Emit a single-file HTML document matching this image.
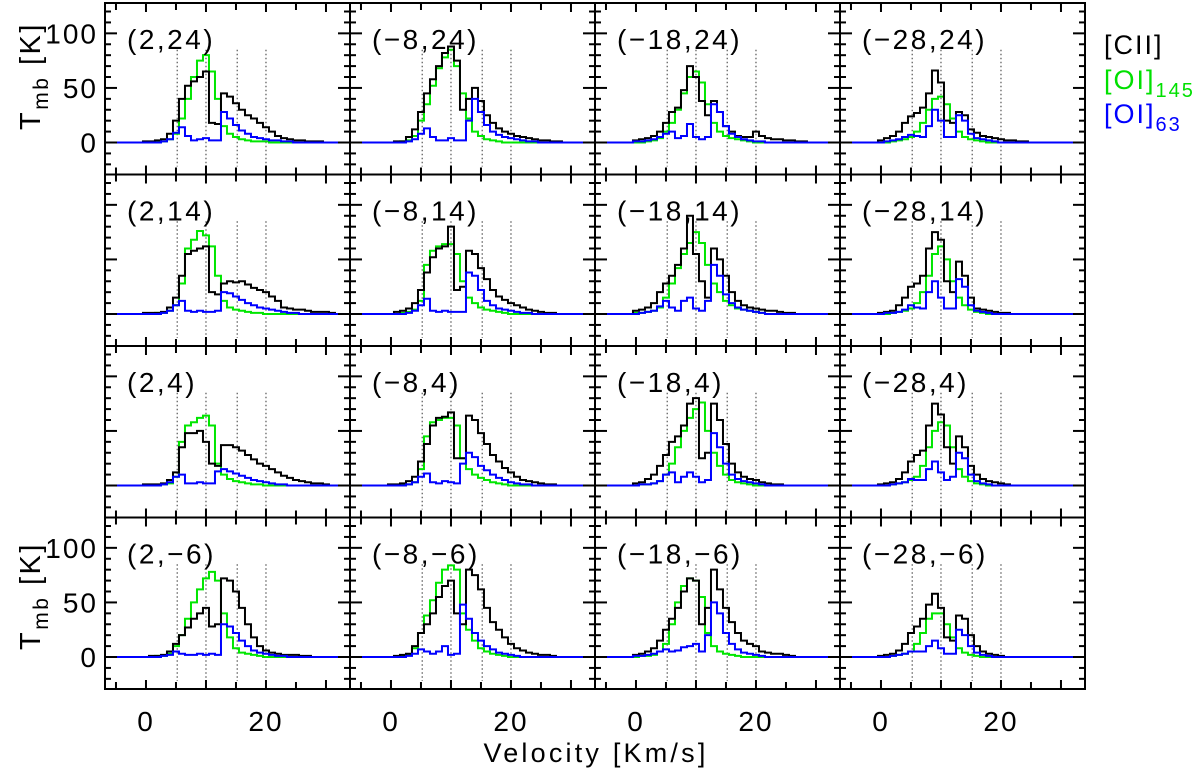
<!DOCTYPE html>
<html><head><meta charset="utf-8">
<style>
html,body{margin:0;padding:0;background:#fff;}
svg{display:block;font-family:"Liberation Sans",sans-serif;}
</style></head>
<body>
<svg id="chart" width="1200" height="772" viewBox="0 0 1200 772" xmlns="http://www.w3.org/2000/svg">
  <g id="panels"></g>
  <text transform="translate(40,76) rotate(-90)" text-anchor="middle" font-size="29" letter-spacing="2.5">T<tspan font-size="21" dy="8">mb</tspan><tspan dy="-8"> [K]</tspan></text>
  <text transform="translate(40,596) rotate(-90)" text-anchor="middle" font-size="29" letter-spacing="2.5">T<tspan font-size="21" dy="8">mb</tspan><tspan dy="-8"> [K]</tspan></text>
  <text x="596" y="762" text-anchor="middle" font-size="27" letter-spacing="3.2">Velocity [Km/s]</text>
  <g font-size="27" letter-spacing="2">
    <text x="1104" y="54" fill="#000">[CII]</text>
    <text x="1104" y="89" fill="#00e000">[OI]<tspan font-size="20" dy="8">145</tspan></text>
    <text x="1104" y="123" fill="#0000ff">[OI]<tspan font-size="20" dy="8">63</tspan></text>
  </g>
</svg>
<script>
const velocities = [0,1,2,3,4,5,6,7,8,9,10,11,12,13,14,15,16,17,18,19,20,21,22,23,24,25,26,27,28,29,30,31,32,33];
const panelTitles = ["(2,24)","(\u22128,24)","(\u221218,24)","(\u221228,24)","(2,14)","(\u22128,14)","(\u221218,14)","(\u221228,14)","(2,4)","(\u22128,4)","(\u221218,4)","(\u221228,4)","(2,\u22126)","(\u22128,\u22126)","(\u221218,\u22126)","(\u221228,\u22126)"];
const xTickLabels = [0,20];
const yTickLabels = [0,50,100];
const dottedVelocities = [5.2,10,15.2,20];

const ciiSeries = [
[1,1,2,3,8,20,40,52,56,60,65,18,17,45,42,36,30,25,22,18,14,10,6,4,3,2,2,1,1,1],
[0,1,1,5,12,28,45,58,70,82,88,75,30,40,50,38,25,18,13,10,8,6,5,4,3,2,2,1,1],
[2,3,4,6,10,18,28,32,48,70,60,38,25,38,28,15,10,6,5,5,10,6,4,3,3,2,2,1,1],
[2,4,6,10,18,24,27,32,45,66,55,20,18,28,25,12,9,6,5,4,3,2,2,1,1],
[1,1,1,2,6,15,35,55,58,60,62,20,18,28,30,29,30,27,24,22,20,16,12,6,5,4,4,3,2,2,2,1],
[0,2,3,5,10,22,38,52,60,62,80,22,25,58,55,42,32,22,16,13,10,8,6,4,3,2,1,1],
[3,4,6,10,20,28,35,45,60,90,55,30,15,60,50,35,20,12,8,6,5,4,3,3,2,1,1],
[1,2,3,8,15,25,28,35,60,75,68,30,20,48,35,15,5,4,3,2,1,1],
[1,1,1,2,5,12,35,48,48,50,40,20,18,37,37,35,32,28,24,20,18,15,12,9,7,5,4,3,2,2,1],
[1,1,2,4,8,22,38,55,62,63,67,25,25,64,60,48,38,28,22,16,12,8,5,4,3,2,1,1],
[2,3,6,10,18,28,40,45,55,75,80,25,30,75,60,38,20,12,8,6,5,3,2,1,1],
[1,2,3,6,12,22,28,32,55,75,65,35,20,45,35,18,10,6,4,3,2,1],
[0,1,1,2,5,12,20,27,35,40,45,28,30,72,70,60,45,30,18,10,6,4,3,2,2,2,1,1],
[0,1,2,3,10,22,30,40,55,65,70,40,30,80,75,62,45,32,25,18,12,8,6,4,3,2,2,1],
[2,3,5,8,15,25,35,45,60,72,70,30,45,80,62,45,32,22,15,12,10,5,4,3,3,2,1],
[1,2,3,6,12,22,28,35,48,58,45,18,15,38,35,20,10,5,3,2,1]
];
const oi145Series = [
[0,0,1,1,3,8,22,40,60,75,80,65,40,15,8,5,3,2,1,1,1],
[0,0,1,2,6,20,35,52,68,78,85,70,45,22,10,6,3,2,1],
[0,0,1,2,4,10,18,30,45,60,65,55,35,18,10,6,4,3,2,1],
[0,0,1,2,3,5,10,18,30,40,42,35,22,10,5,3,2,1],
[0,0,1,1,3,8,28,60,68,76,72,62,35,12,6,4,3,2,1,1],
[0,0,1,2,4,12,45,58,62,64,64,55,30,15,10,6,4,3,2,1],
[1,1,2,3,6,15,28,42,55,65,75,65,45,28,20,12,8,5,4,3,2,1],
[0,0,1,2,3,5,10,20,35,55,62,50,30,15,8,4,2,1],
[0,0,0,1,2,8,40,55,58,62,64,55,20,10,6,4,3,2,1,1],
[0,0,1,1,3,15,45,58,60,62,62,55,25,15,10,7,5,3,2,1],
[0,1,1,2,4,10,20,35,50,62,70,76,50,30,18,10,5,3,2,1],
[0,0,1,2,3,5,8,18,35,50,58,55,35,15,8,4,2,1],
[0,0,1,1,3,10,20,35,50,62,72,78,70,40,18,8,4,3,2,1],
[0,0,1,2,8,22,38,52,68,80,84,80,40,25,15,8,5,3,2,1],
[0,1,1,2,5,12,30,50,65,72,70,55,22,10,5,3,2,1],
[0,0,1,2,3,5,12,22,35,40,40,30,18,8,4,2,1]
];
const oi63Series = [
[0,0,0,1,3,9,14,6,2,3,4,2,2,28,22,16,11,8,5,4,3,2,2,1,1],
[0,0,0,1,3,8,13,5,2,2,4,2,2,20,40,28,16,10,7,5,4,3,2,1,1],
[1,1,2,3,5,8,10,4,6,17,5,3,5,35,28,15,8,5,3,2,1,1],
[0,1,2,3,5,7,6,5,15,30,20,5,5,25,20,8,4,3,2,1],
[0,0,0,1,3,8,12,3,2,3,2,2,3,20,19,16,13,10,8,6,5,4,3,2,1,1],
[0,0,0,1,3,8,14,3,2,3,2,2,2,38,35,22,12,8,5,4,3,2,1,1],
[0,1,2,3,7,12,6,3,12,15,5,3,12,45,35,18,10,6,4,3,2,1],
[0,1,1,2,4,8,6,5,20,30,15,5,5,32,25,8,3,2,1],
[0,0,0,1,3,8,10,2,2,3,2,2,13,15,13,11,9,7,5,4,3,2,1,1],
[0,0,0,1,3,8,11,3,2,4,3,2,20,30,26,18,14,10,7,5,3,2,1,1],
[0,1,1,2,4,10,12,3,8,12,8,3,5,48,35,20,10,6,4,3,2,1],
[0,0,1,2,3,6,5,5,15,22,12,5,8,30,25,10,4,2,1],
[0,0,0,1,2,5,3,2,2,3,2,3,2,30,28,22,15,10,6,4,3,2,1,1],
[0,0,0,1,3,7,5,3,5,10,2,3,48,35,22,15,10,7,4,3,2,1],
[1,1,2,3,5,7,5,6,9,10,12,5,20,50,40,22,12,7,4,3,2,1],
[0,0,1,2,3,5,5,5,10,15,8,3,3,25,20,10,4,2,1]
];

const NS = "http://www.w3.org/2000/svg";
const X0 = 105, PW = 245, Y0 = 3, PH = 171.5;
const VMIN = -6.83, VMAX = VMIN + PW/6;
const KMIN = -29.3, KMAX = 127.8;
function xs(col, v){ return X0 + col*PW + (v - VMIN) * (PW/(VMAX-VMIN)); }
function ys(row, k){ return Y0 + row*PH + (KMAX - k) * (PH/(KMAX-KMIN)); }
function mk(tag, attrs, parent){ const e = document.createElementNS(NS, tag); for (const a in attrs) e.setAttribute(a, attrs[a]); parent.appendChild(e); return e; }

const root = document.getElementById('panels');
const defs = mk('defs', {}, root);

function stepPath(col, row, data){
  const val = i => (data[i] === undefined ? 0 : data[i]);
  let d = 'M' + xs(col, VMIN) + ' ' + ys(row, 0);
  d += ' L' + xs(col, velocities[0]-0.5) + ' ' + ys(row, 0);
  for (let i = 0; i < velocities.length; i++){
    const y = ys(row, val(i));
    d += ' L' + xs(col, velocities[i]-0.5) + ' ' + y + ' L' + xs(col, velocities[i]+0.5) + ' ' + y;
  }
  d += ' L' + xs(col, velocities[velocities.length-1]+0.5) + ' ' + ys(row, 0) + ' L' + xs(col, VMAX) + ' ' + ys(row, 0);
  return d;
}

for (let p = 0; p < 16; p++){
  const col = p % 4, row = Math.floor(p / 4);
  const px = X0 + col*PW, py = Y0 + row*PH;
  const g = mk('g', {}, root);
  
  
  const cp = mk('clipPath', {id: 'clip' + p}, defs);
  mk('rect', {x: px, y: py, width: PW, height: PH}, cp);

  for (const dv of dottedVelocities){
    const l = mk('line', {x1: xs(col, dv), x2: xs(col, dv), y1: ys(row, 85), y2: ys(row, -22), stroke: '#333', 'stroke-width': 1, 'stroke-dasharray': '1.5,2.5'}, g);
    
    
  }
  const series = [[oi145Series[p], '#00e600', 'oi145-line'], [ciiSeries[p], '#000', 'cii-line'], [oi63Series[p], '#0000ff', 'oi63-line']];
  for (const s of series){
    const path = mk('path', {d: stepPath(col, row, s[0]), fill: 'none', stroke: s[1], 'stroke-width': 2, 'clip-path': 'url(#clip' + p + ')'}, g);
    
    
  }
  for (let v = -5; v <= 30; v += 5){
    const len = (v % 10 === 0) ? 9 : 7;
    const x = xs(col, v);
    const t1 = mk('line', {x1: x, x2: x, y1: py + PH, y2: py + PH - len, stroke: '#000', 'stroke-width': 2}, g);
    
    
    const t2 = mk('line', {x1: x, x2: x, y1: py, y2: py + len, stroke: '#000', 'stroke-width': 2}, g);
    
    
  }
  for (let k = -20; k <= 120; k += 10){
    const len = (k % 50 === 0) ? 12 : 6;
    const y = ys(row, k);
    const t1 = mk('line', {x1: px, x2: px + len, y1: y, y2: y, stroke: '#000', 'stroke-width': 2}, g);
    
    
    const t2 = mk('line', {x1: px + PW, x2: px + PW - len, y1: y, y2: y, stroke: '#000', 'stroke-width': 2}, g);
    
    
  }
  const frame = mk('rect', {x: px, y: py, width: PW, height: PH, fill: 'none', stroke: '#000', 'stroke-width': 2}, g);
  
  
  const title = mk('text', {x: px + 22, y: py + 46, 'font-size': 28, 'letter-spacing': 2.5, fill: '#000'}, g);
  title.textContent = panelTitles[p];
  
  

  if (col === 0 && (row === 0 || row === 3)){
    for (const k of yTickLabels){
      const t = mk('text', {x: 98, y: ys(row, k) + 10, 'text-anchor': 'end', 'font-size': 28, 'letter-spacing': 2}, root);
      t.textContent = k;
      
      
    }
  }
  if (row === 3){
    for (const v of xTickLabels){
      const t = mk('text', {x: xs(col, v), y: 731, 'text-anchor': 'middle', 'font-size': 28, 'letter-spacing': 2}, root);
      t.textContent = v;
      
      
    }
  }
}
</script>
</body></html>
